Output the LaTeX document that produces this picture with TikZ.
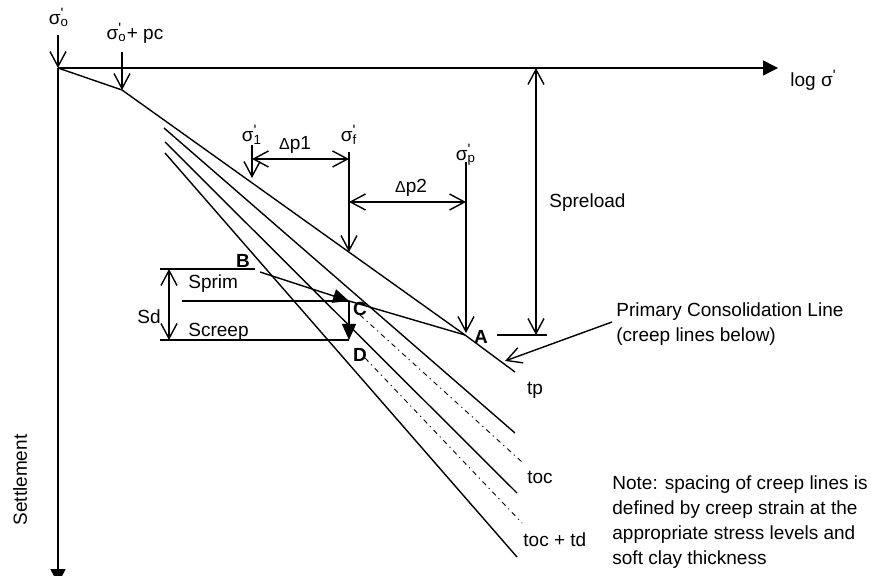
\documentclass[tikz,border=0pt]{standalone}
\usepackage{fontspec}
\setmainfont{Liberation Sans}
\usetikzlibrary{arrows.meta}
\newcommand{\prm}{\raisebox{0.32em}{\fontsize{7.5}{7.5}\selectfont\textquotesingle}}
\newcommand{\sgm}[1]{σ\rlap{\prm}\textsubscript{#1}}
\tikzset{
  ln/.style={line width=0.7pt},
  dd/.style={line width=0.45pt, dash pattern=on 2.5pt off 2pt on 0.6pt off 2pt},
  varr/.style={ln, -{Straight Barb[length=7.5pt,width=8pt,line width=0.7pt]}},
  dvarr/.style={ln, {Straight Barb[length=7.5pt,width=8pt,line width=0.7pt]}-{Straight Barb[length=7.5pt,width=8pt,line width=0.7pt]}},
  farr/.style={ln, -{Triangle[length=8pt,width=7pt]}},
  lbl/.style={inner sep=0pt, font=\fontsize{9.5}{12.5}\selectfont},
  blbl/.style={lbl, font=\fontsize{9.5}{12.5}\selectfont\bfseries},
}
\begin{document}
\begin{tikzpicture}[x=0.5pt,y=-0.5pt]
\useasboundingbox (0,0) rectangle (871,576);
% coordinates
\coordinate (O) at (58,68);
\coordinate (sigoTop) at (58,35);
\coordinate (Xend) at (778,68);
\coordinate (Yend) at (58,584);
\coordinate (PC) at (122,90);
\coordinate (pcTop) at (122,52);
\coordinate (A) at (465,335);
\coordinate (tpEnd) at (515,372);
\coordinate (L2s) at (164,128); \coordinate (L2e) at (515,433);
\coordinate (L3s) at (165,142); \coordinate (L3e) at (517,493);
\coordinate (L4s) at (165,153); \coordinate (L4e) at (517,557);
\coordinate (C) at (349,301);
\coordinate (D) at (349,340);
\coordinate (DD1s) at (360,315); \coordinate (DD1e) at (522,462);
\coordinate (DD2s) at (365,358); \coordinate (DD2e) at (522,523);
\coordinate (SdTop) at (169,269); \coordinate (SdBot) at (169,340);
\coordinate (TopL) at (160,269); \coordinate (TopR) at (255,269);
\coordinate (ScL) at (160,340);
\coordinate (SpL) at (182,301);
\coordinate (Bs) at (260,272);
\coordinate (s1Top) at (252,145); \coordinate (s1Tip) at (252,178);
\coordinate (dp1L) at (252,159); \coordinate (dp1R) at (349,159);
\coordinate (sfTop) at (349,152); \coordinate (sfTip) at (349,252);
\coordinate (dp2L) at (349,202); \coordinate (dp2R) at (466,202);
\coordinate (spTop) at (466,162); \coordinate (spTip) at (466,333);
\coordinate (preTop) at (536,68); \coordinate (preBot) at (536,335);
\coordinate (preL) at (497,335); \coordinate (preR) at (547,335);
\coordinate (ptS) at (612,322); \coordinate (ptE) at (505,361);

% axes
\draw[ln, -{Triangle[length=7.5pt,width=7.5pt]}] (O) -- (Xend);
\draw[ln, -{Triangle[length=7.5pt,width=7.5pt]}] (O) -- (Yend);
\draw[varr] (sigoTop) -- (O);
\draw[varr] (pcTop) -- (PC);

% consolidation lines
\draw[ln] (O) -- (PC) -- (A) -- (tpEnd);
\draw[ln] (L2s) -- (L2e);
\draw[ln] (L3s) -- (L3e);
\draw[ln] (L4s) -- (L4e);
\draw[dd] (DD1s) -- (DD1e);
\draw[dd] (DD2s) -- (DD2e);
\draw[ln] (C) -- (A);

% stress markers
\draw[varr] (s1Top) -- (s1Tip);
\draw[dvarr] (dp1L) -- (dp1R);
\draw[varr] (sfTop) -- (sfTip);
\draw[dvarr] (dp2L) -- (dp2R);
\draw[varr] (spTop) -- (spTip);
\draw[dvarr] (preTop) -- (preBot);
\draw[ln] (preL) -- (preR);
\draw[varr] (ptS) -- (ptE);

% settlement construction
\draw[ln] (TopL) -- (TopR);
\draw[ln] (ScL) -- (D);
\draw[ln] (SpL) -- (C);
\draw[dvarr] (SdTop) -- (SdBot);
\draw[farr] (Bs) -- (C);
\draw[farr] (C) -- (D);

% labels
\node[lbl] (lsigo) at (59,17) {\sgm{o}};
\node[lbl] (lsigpc) at (135,33) {\sgm{o}+ pc};
\node[lbl] (lsig1) at (252,135) {\sgm{1}};
\node[lbl] (lsigf) at (349,135) {\sgm{f}};
\node[lbl] (lsigp) at (466,155) {\sgm{p}};
\node[lbl] (ldp1) at (295,145) {{\fontsize{8}{10}\selectfont Δ}p1};
\node[lbl] (ldp2) at (411,188) {{\fontsize{8}{10}\selectfont Δ}p2};
\node[lbl, anchor=west] (lpre) at (549,203) {Spreload};
\node[lbl, anchor=west] (llog) at (790,80) {log σ\prm};
\node[lbl, anchor=west, align=left] (lpcl) at (616,324) {Primary Consolidation Line\\(creep lines below)};
\node[blbl] (lB) at (243,261) {B};
\node[blbl] (lC) at (360,309) {C};
\node[blbl] (lD) at (360,355) {D};
\node[blbl] (lA) at (481,337) {A};
\node[lbl, anchor=west] (lsprim) at (188,284) {Sprim};
\node[lbl, anchor=west] (lscreep) at (188,332) {Screep};
\node[lbl] (lsd) at (149,317) {Sd};
\node[lbl] (ltp) at (535,390) {tp};
\node[lbl] (ltoc) at (540,477) {toc};
\node[lbl, anchor=west] (ltoctd) at (523,540) {toc + td};
\node[lbl, anchor=west, align=left] (lnote) at (612,522) {Note: spacing of creep lines is\\defined by creep strain at the\\appropriate stress levels and\\soft clay thickness};
\node[lbl, rotate=90] (lset) at (20,480) {Settlement};
\end{tikzpicture}
\end{document}
